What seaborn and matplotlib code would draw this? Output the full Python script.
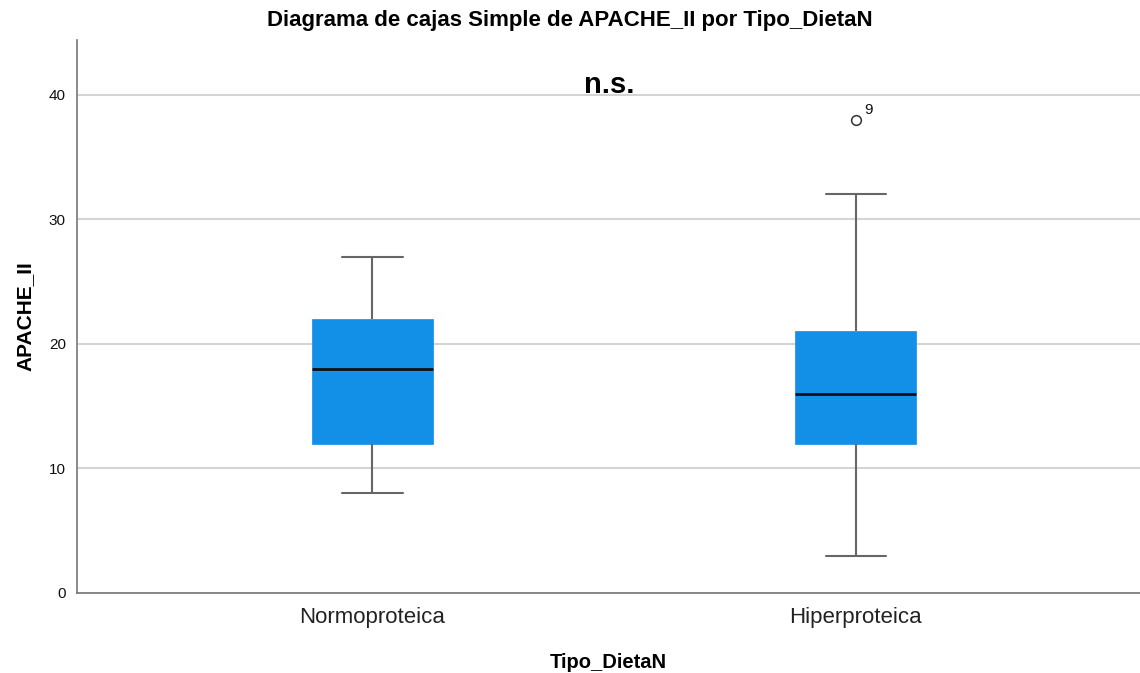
import numpy as np
import pandas as pd
import matplotlib
matplotlib.use("Agg")
import matplotlib.pyplot as plt
import seaborn as sns

# Data (five-number summaries per group)
categories = ["Normoproteica", "Hiperproteica"]
whisker_low = [8, 3]
q1 = [12, 12]
median = [18, 16]
q3 = [22, 21]
whisker_high = [27, 32]
outliers = [[], [38]]
outlier_labels = [[], ["9"]]
yticks = [0, 10, 20, 30, 40]

# Build small samples reproducing those summaries
rows = []
for i, cat in enumerate(categories):
    if outliers[i]:
        vals = [whisker_low[i], q1[i], q1[i], median[i], median[i], q3[i], q3[i],
                whisker_high[i]] + outliers[i]
    else:
        vals = [whisker_low[i], q1[i], q1[i], median[i], q3[i], q3[i], whisker_high[i]]
    for v in vals:
        rows.append({"Tipo_DietaN": cat, "APACHE_II": v})
df = pd.DataFrame(rows)

sns.set_theme(style="white")
plt.rcParams["font.family"] = ["Liberation Sans", "DejaVu Sans"]

fig = plt.figure(figsize=(11.4, 6.73), dpi=100)
ax = fig.add_axes([0.0675, 0.1189, 0.9325, 0.8217])

sns.boxplot(data=df, x="Tipo_DietaN", y="APACHE_II", order=categories,
            width=0.25, color="#128fe6", saturation=1, whis=1.5,
            boxprops=dict(facecolor="#128fe6", edgecolor="#128fe6", linewidth=0.5),
            whiskerprops=dict(color="#666666", linewidth=1.5),
            capprops=dict(color="#666666", linewidth=1.5),
            medianprops=dict(color="#111111", linewidth=2),
            flierprops=dict(marker="o", markersize=7, markerfacecolor="white",
                            markeredgecolor="#333333", markeredgewidth=1.1),
            linecolor="#666666", ax=ax, zorder=3)

# caps: half of the box width
for line in ax.lines:
    xd = line.get_xdata()
    yd = line.get_ydata()
    if len(xd) == 2 and yd[0] == yd[1] and xd[0] != xd[1]:
        c = (xd[0] + xd[1]) / 2
        if abs(xd[1] - xd[0]) < 0.2:
            line.set_xdata([c - 0.0625, c + 0.0625])

ax.set_xlim(-0.611, 1.588)
ax.set_ylim(0, 44.4)
ax.set_yticks(yticks)
ax.yaxis.grid(True, color="#d4d4d4", linewidth=1.5, zorder=0)
ax.set_axisbelow(True)
for s in ["top", "right"]:
    ax.spines[s].set_visible(False)
for s in ["left", "bottom"]:
    ax.spines[s].set_color("#777777")
    ax.spines[s].set_linewidth(1.2)

ax.tick_params(axis="y", labelsize=11, length=0, pad=8, colors="#111111")
ax.tick_params(axis="x", labelsize=16, length=0, pad=10, colors="#222222")
ax.set_xlabel("Tipo_DietaN", fontsize=14.5, fontweight="bold", labelpad=18, color="black")
ax.set_ylabel("APACHE_II", fontsize=15, fontweight="bold", labelpad=10, color="black")

for i, labs in enumerate(outlier_labels):
    for v, lab in zip(outliers[i], labs):
        ax.annotate(lab, (i, v), xytext=(6, 4), textcoords="offset points",
                    fontsize=11, color="#111111")

ax.text(0.49, 40.8, "n.s.", ha="center", va="center", fontsize=21,
        fontweight="bold", color="black")

fig.suptitle("Diagrama de cajas Simple de APACHE_II por Tipo_DietaN",
             fontsize=16, fontweight="bold", x=0.5, y=0.985, color="black")

fig.savefig("out.png", dpi=100, facecolor="white")
